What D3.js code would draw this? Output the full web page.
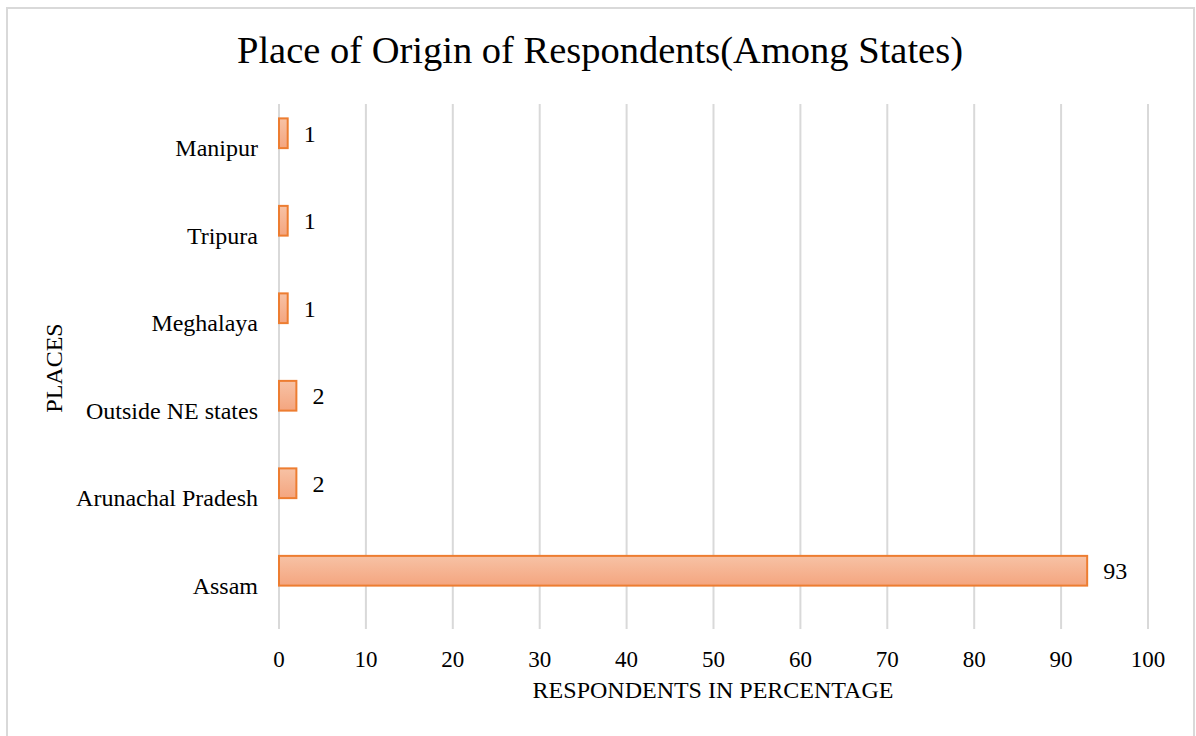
<!DOCTYPE html>
<meta charset="utf-8">
<style>
  body { margin: 0; background: #fff; }
  svg text { font-family: "Liberation Serif", "Times New Roman", serif; fill: #000; }
</style>
<body>
<svg id="chart"></svg>
<script src="https://d3js.org/d3.v7.min.js"></script>
<script>
// data
var places = ["Manipur", "Tripura", "Meghalaya", "Outside NE states", "Arunachal Pradesh", "Assam"];
var percents = [1, 1, 1, 2, 2, 93];
var xTicks = [0, 10, 20, 30, 40, 50, 60, 70, 80, 90, 100];

var W = 1196, H = 736;
var svg = d3.select("#chart").attr("width", W).attr("height", H);

// outer chart border
svg.append("rect")
    .attr("x", 7).attr("y", 8)
    .attr("width", 1187).attr("height", 740)
    .attr("fill", "#fff")
    .attr("stroke", "#d9d9d9")
    .attr("stroke-width", 2);

var defs = svg.append("defs");
var grad = defs.append("linearGradient")
    .attr("id", "barGrad")
    .attr("x1", 0).attr("y1", 0).attr("x2", 0).attr("y2", 1);
grad.append("stop").attr("offset", "0%").attr("stop-color", "#f7c2a5");
grad.append("stop").attr("offset", "100%").attr("stop-color", "#f4a57f");

var plotTop = 104, plotBottom = 629;

var x = d3.scaleLinear().domain([0, 100]).range([279, 1148]);
var y = d3.scaleBand().domain(places).range([89.5, 614.5]).paddingInner(0.66).paddingOuter(0.33);

// vertical gridlines
svg.append("g").selectAll("line")
    .data(xTicks)
    .join("line")
    .attr("x1", d => x(d)).attr("x2", d => x(d))
    .attr("y1", plotTop).attr("y2", plotBottom)
    .attr("stroke", "#d9d9d9")
    .attr("stroke-width", 2);

// x tick labels
svg.append("g").selectAll("text")
    .data(xTicks)
    .join("text")
    .attr("x", d => x(d))
    .attr("y", 667)
    .attr("text-anchor", "middle")
    .style("font-size", "23px")
    .text(d => d);

// category labels (sit a little below the bar centre, as in the original)
svg.append("g").selectAll("text")
    .data(places)
    .join("text")
    .attr("x", 258)
    .attr("y", d => y(d) + y.bandwidth() / 2 + 23)
    .attr("text-anchor", "end")
    .style("font-size", "24px")
    .text(d => d);

// bars
svg.append("g").selectAll("rect")
    .data(places)
    .join("rect")
    .attr("x", x(0))
    .attr("y", d => y(d))
    .attr("width", (d, i) => x(percents[i]) - x(0))
    .attr("height", y.bandwidth())
    .attr("fill", "url(#barGrad)")
    .attr("stroke", "#ed7d31")
    .attr("stroke-width", 2);

// value labels
svg.append("g").selectAll("text")
    .data(places)
    .join("text")
    .attr("x", (d, i) => x(percents[i]) + 16)
    .attr("y", d => y(d) + y.bandwidth() / 2 + 8.5)
    .style("font-size", "24px")
    .text((d, i) => percents[i]);

// title
svg.append("text")
    .attr("x", 600).attr("y", 63)
    .attr("text-anchor", "middle")
    .style("font-size", "38.5px")
    .text("Place of Origin of Respondents(Among States)");

// axis titles
svg.append("text")
    .attr("x", 713).attr("y", 698)
    .attr("text-anchor", "middle")
    .style("font-size", "24px")
    .text("RESPONDENTS IN PERCENTAGE");

svg.append("text")
    .attr("transform", "translate(62,368) rotate(-90)")
    .attr("text-anchor", "middle")
    .style("font-size", "24px")
    .text("PLACES");
</script>
</body>
